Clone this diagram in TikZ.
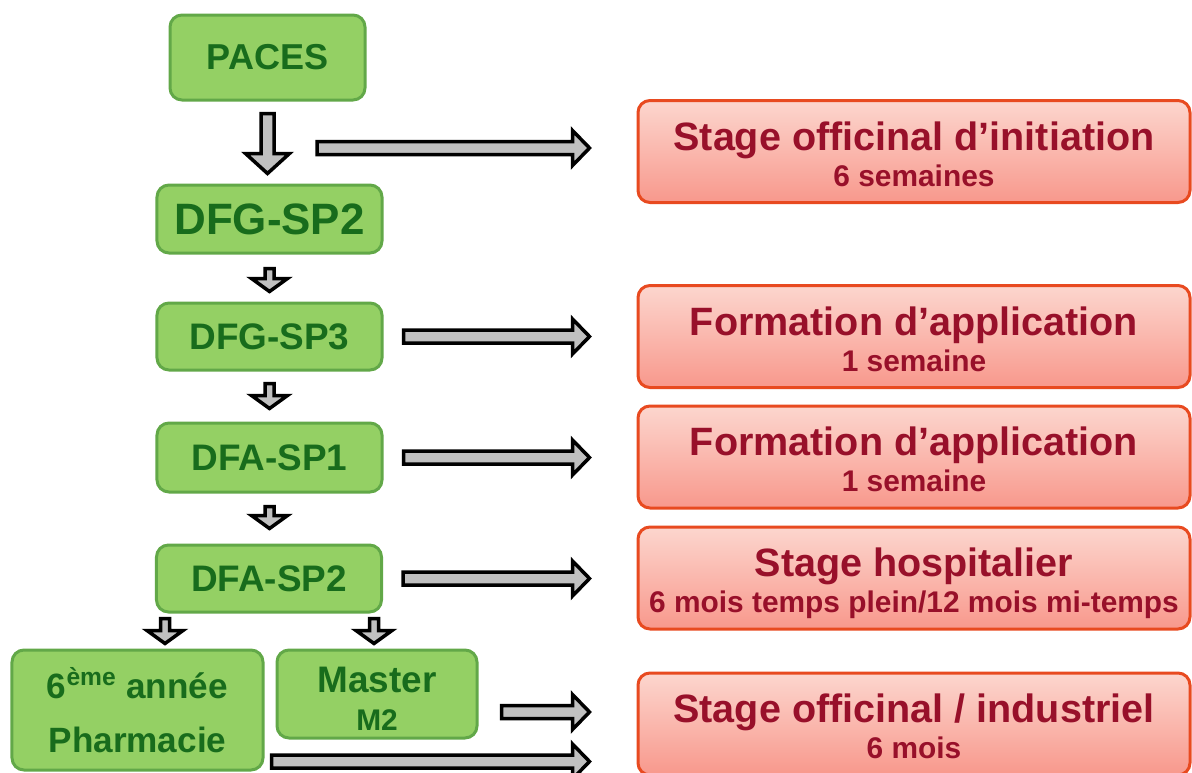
\documentclass[tikz,border=0pt]{standalone}
\usepackage{fontspec}
\setmainfont{Liberation Sans}
\usetikzlibrary{
  calc
}
\definecolor{leaf}{RGB}{148,208,100}
\definecolor{leafline}{RGB}{98,168,72}
\definecolor{leaftext}{RGB}{24,108,28}
\definecolor{rosetop}{RGB}{252,214,206}
\definecolor{rosebot}{RGB}{248,152,140}
\definecolor{roseline}{RGB}{232,74,32}
\definecolor{rosetext}{RGB}{152,16,42}
\definecolor{shaftgray}{RGB}{192,192,192}
\newcommand\fsz[2]{\fontsize{#1}{#2}\selectfont}
\newcommand\stagelines[2]{{\fsz{22.5}{22.5}\rule{0pt}{24pt}#1}\\#2\rule[-5pt]{0pt}{5pt}}

\begin{document}
\begin{tikzpicture}[
  x=0.2mm,
  y=-0.2mm,
  year/.style={draw=leafline, fill=leaf, text=leaftext, line width=0.6mm,
    rounded corners=2.4mm, inner sep=0pt, align=center,
    font=\bfseries\fsz{21}{24}},
  stage/.style={draw=roseline, top color=rosetop, bottom color=rosebot,
    text=rosetext, line width=0.6mm, rounded corners=2.4mm, inner sep=0pt,
    minimum width=110.4mm, minimum height=20.4mm, align=center,
    font=\bfseries\fsz{17}{20.5}},
  block/.style={draw=black, fill=shaftgray, line width=0.7mm, line join=miter},
  rightblock/.style={block, to path={let \p1=(\tikztostart), \p2=(\tikztotarget) in
    (\x1,\y1+1.3mm) -- (\x2-3.4mm,\y1+1.3mm) -- (\x2-3.4mm,\y1+3.5mm) -- (\x2,\y1)
    -- (\x2-3.4mm,\y1-3.5mm) -- (\x2-3.4mm,\y1-1.3mm) -- (\x1,\y1-1.3mm) -- cycle}},
  downblock/.style n args={3}{block, to path={let \p1=(\tikztostart), \p2=(\tikztotarget) in
    (\x1-#1,\y1) -- (\x1-#1,\y2+#3) -- (\x1-#2,\y2+#3) -- (\x1,\y2)
    -- (\x1+#2,\y2+#3) -- (\x1+#1,\y2+#3) -- (\x1+#1,\y1) -- cycle}},
]
\useasboundingbox (0,0) rectangle (1192,773);

% the years
\node[year, minimum width=39mm, minimum height=17mm, font=\bfseries\fsz{20.5}{24}] (paces) at (267.5,57.5) {PACES};
\node[year, minimum width=45mm, minimum height=13.6mm, font=\bfseries\fsz{25}{28}] (dfgtwo) at (269.5,219) {DFG-SP2};
\node[year, minimum width=45mm, minimum height=13.4mm] (dfgthree) at (269.5,336.5) {DFG-SP3};
\node[year, minimum width=45mm, minimum height=13.8mm] (dfaone) at (269.5,457.5) {DFA-SP1};
\node[year, minimum width=45mm, minimum height=13.4mm] (dfatwo) at (269,578.5) {DFA-SP2};
\node[year, minimum width=50.2mm, minimum height=24mm, font=\bfseries\fsz{20}{31}] (sixth) at (137.5,710) {6\textsuperscript{ème} année\\Pharmacie};
\node[year, minimum width=40mm, minimum height=17.6mm, font=\bfseries\fsz{21}{21.6}] (master) at (377,694) {\rule{0pt}{20pt}Master\\{\fsz{17}{21.6}M2}};

% the training periods
\node[stage] (initiation) at (914,151.5) {\stagelines{Stage officinal d’initiation}{6 semaines}};
\node[stage] (applone) at (914,336.5) {\stagelines{Formation d’application}{1 semaine}};
\node[stage] (appltwo) at (914,457) {\stagelines{Formation d’application}{1 semaine}};
\node[stage] (hospital) at (914,578) {\stagelines{Stage hospitalier}{6 mois temps plein/12 mois mi-temps}};
\node[stage] (officine) at (914,724) {\stagelines{Stage officinal / industriel}{6 mois}};

\coordinate (tostage) at (317,148);

\draw[downblock={1.3mm}{4.4mm}{4mm}] ([yshift=-2.4mm]paces.south) to ([yshift=2mm]dfgtwo.north);
\draw[downblock={0.9mm}{3.6mm}{2.6mm}] ([yshift=-2.8mm]dfgtwo.south) to ([yshift=2mm]dfgthree.north);
\draw[downblock={0.9mm}{3.6mm}{2.6mm}] ([yshift=-2.4mm]dfgthree.south) to ([yshift=2.6mm]dfaone.north);
\draw[downblock={0.9mm}{3.6mm}{2.6mm}] ([yshift=-2.6mm]dfaone.south) to ([yshift=3mm]dfatwo.north);
\draw[downblock={0.9mm}{3.6mm}{2.6mm}] ([shift={(2mm,-1mm)}]dfatwo.south west) to ([yshift=1mm]sixth.north);
\draw[downblock={0.9mm}{3.6mm}{2.6mm}] ([shift={(-1.8mm,-1mm)}]dfatwo.south east) to ([yshift=1mm]master.north);

\draw[rightblock] (tostage) to ([xshift=-9.4mm]initiation.west);
\draw[rightblock] ([xshift=4mm]dfgthree.east) to ([xshift=-9.4mm]applone.west);
\draw[rightblock] ([xshift=4mm]dfaone.east) to ([xshift=-9.4mm]appltwo.west);
\draw[rightblock] ([xshift=4mm]dfatwo.east) to ([xshift=-9.4mm]hospital.west);
\draw[rightblock] ([shift={(4.6mm,-3.6mm)}]master.east) to ([xshift=-9.4mm]officine.west);
\draw[rightblock] ([shift={(1.4mm,2mm)}]sixth.south east) to ([xshift=-9.4mm]officine.west);
\end{tikzpicture}
\end{document}
